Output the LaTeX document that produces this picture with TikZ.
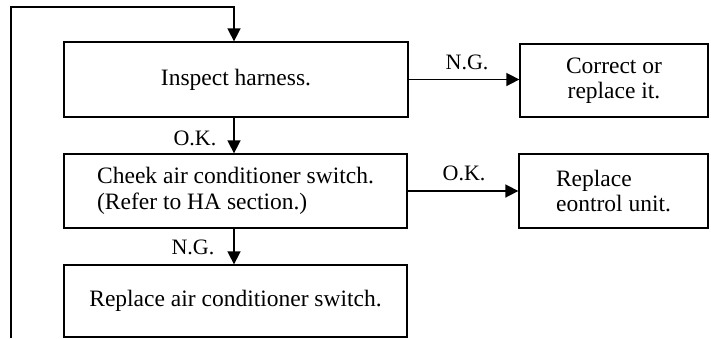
\documentclass[tikz,border=0pt]{standalone}
\usepackage{fontspec}
\setmainfont{Liberation Serif}
\usetikzlibrary{arrows.meta}
\begin{document}
\begin{tikzpicture}[x=1pt,y=-1pt,
  box/.style={draw,line width=1.3pt,inner sep=0pt,font=\fontsize{23.5}{25.5}\selectfont},
  conn/.style={line width=1.6pt,-{Triangle[length=13pt,width=13pt]}},
  lbl/.style={font=\fontsize{22}{25}\selectfont,inner sep=0pt}]
\useasboundingbox (0,0) rectangle (711,338);
\node[box,minimum width=344pt,minimum height=75pt] (b1) at (236,79.5) {Inspect harness.};
\node[box,minimum width=343pt,minimum height=74pt,align=left] (b2) at (235.5,191) {Cheek air conditioner switch.\\(Refer to HA section.)};
\node[box,minimum width=343pt,minimum height=72pt] (b3) at (235.5,301) {Replace air conditioner switch.};
\node[box,minimum width=188pt,minimum height=73pt,align=center] (r1) at (614,80.5) {Correct or\\replace it.};
\node[box,minimum width=189pt,minimum height=74pt,align=left] (r2) at (613.5,191) {Replace\\eontrol unit.};
\coordinate (lb) at (11,338);
\coordinate (lt) at (11,7);
\coordinate (tt) at (234,7);
\draw[conn] (lb) -- (lt) -- (tt) -- (tt |- b1.north);
\draw[conn] (b1.south -| 234,0) -- (b2.north -| 234,0);
\draw[conn] (b2.south -| 234,0) -- (b3.north -| 234,0);
\draw[conn] (b1.east) -- (r1.west |- b1.east);
\draw[conn] (b2.east) -- (r2.west |- b2.east);
\node[lbl] (l1) at (195,138) {O.K.};
\node[lbl] (l2) at (193,247) {N.G.};
\node[lbl] (l3) at (467,62) {N.G.};
\node[lbl] (l4) at (464,173) {O.K.};
\end{tikzpicture}
\end{document}
